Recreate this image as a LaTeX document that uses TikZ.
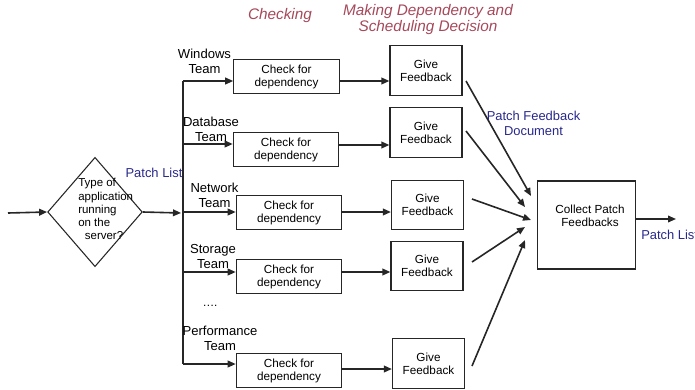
\documentclass[tikz,border=0pt]{standalone}
\usepackage{fontspec}
\setmainfont{Liberation Sans}
\usetikzlibrary{shapes.geometric, arrows.meta, positioning, calc}

\definecolor{headred}{RGB}{166,72,90}
\definecolor{listblue}{RGB}{40,40,140}

\begin{document}
\begin{tikzpicture}[
    x=0.75pt, y=-0.75pt,
    >={Triangle[length=6pt, width=5pt]},
    % Core styles
    checkbox/.style={
        draw=black!85, line width=0.9pt, inner sep=0pt,
        minimum width=79pt, minimum height=26pt, align=center,
        font=\fontsize{8.8}{9.8}\selectfont
    },
    fbbox/.style={
        draw=black!85, line width=0.9pt, inner sep=0pt,
        minimum width=54pt, minimum height=37pt, align=center,
        font=\fontsize{8.8}{9.6}\selectfont
    },
    decision/.style={
        diamond, draw=black!85, line width=0.8pt, inner sep=0pt,
        minimum width=71pt, minimum height=82pt
    },
    flow/.style={->, line width=1.2pt, color=black!85},
    teamlabel/.style={font=\fontsize{9.8}{11.3}\selectfont, align=center, inner sep=0pt},
    boxtext/.style={font=\fontsize{8.8}{9.8}\selectfont, align=center, inner sep=0pt},
    headlabel/.style={font=\fontsize{11.5}{12}\selectfont\itshape, text=headred, align=center, inner sep=0pt},
    flowlabel/.style={font=\fontsize{9.7}{11.2}\selectfont, text=listblue, align=center, inner sep=0pt}
]
\useasboundingbox (0,0) rectangle (695,389);

% === PHASE HEADINGS ===
\node[headlabel] (hcheck) at (280,16) {Checking};
\node[headlabel] (hdecide) at (428,20) {Making Dependency and\\Scheduling Decision};

% === DECISION (application type) ===
\node[decision] (type) at (95,212) {};
\node[boxtext, align=left, font=\fontsize{8.6}{9.8}\selectfont, anchor=west]
    (typetext) at (78,209) {Type of\\application\\running\\on the\\\hspace{5pt}server?};
\coordinate (start) at (8,213);
\draw[flow] (start) -- (type.west);

% bus carrying the patch list to every team
\coordinate (busin) at (181,213);
\coordinate (bustop) at (183,81);
\coordinate (busbot) at (183,364);
\draw[flow] (type.east) -- (busin);
\draw[line width=1.2pt, black!85] (bustop) -- (busbot);
\node[flowlabel] (plist) at (154,173) {Patch List};

% === TEAMS: CHECK FOR DEPENDENCY ===
\node[checkbox] (chk1) at (286.5,76.5) {Check for\\dependency};
\node[checkbox] (chk2) at (286,149.5) {Check for\\dependency};
\node[checkbox] (chk3) at (289,212.5) {Check for\\dependency};
\node[checkbox] (chk4) at (289,276.5) {Check for\\dependency};
\node[checkbox] (chk5) at (289,370.5) {Check for\\dependency};

\node[teamlabel] (tm1) at (204.5,61) {Windows\\Team};
\node[teamlabel] (tm2) at (211,129.5) {Database\\Team};
\node[teamlabel] (tm3) at (214.5,195.5) {Network\\Team};
\node[teamlabel] (tm4) at (213,256.5) {Storage\\Team};
\node[teamlabel] (tm5) at (220,338.5) {Performance\\Team};
\node[boxtext] (more) at (210,306) {….};

\foreach \n/\y in {1/81, 2/144, 3/212, 4/272, 5/364} {
    \coordinate (br\n) at (183,\y);
    \draw[flow] (br\n) -- (br\n -| chk\n.west);
}

% === GIVE FEEDBACK ===
\node[fbbox] (fb1) at (426,70.5) {Give\\Feedback};
\node[fbbox] (fb2) at (426,132.5) {Give\\Feedback};
\node[fbbox] (fb3) at (427.5,205) {Give\\Feedback};
\node[fbbox] (fb4) at (427,266) {Give\\Feedback};
\node[fbbox] (fb5) at (428.5,363.5) {Give\\Feedback};

\foreach \n/\y in {1/81, 2/145, 3/212, 4/272, 5/369} {
    \coordinate (row\n) at (0,\y);
    \draw[flow] (chk\n.east |- row\n) -- (fb\n.west |- row\n);
}

% === COLLECT FEEDBACKS ===
\node[draw=black!85, line width=0.9pt, minimum width=74pt, minimum height=66pt, inner sep=0pt]
    (collect) at (586.5,225) {};
\node[boxtext] (collecttext) at (590,216) {Collect Patch\\Feedbacks};

\foreach \n/\sx/\sy/\ex/\ey in {1/466/81/531/196, 2/466/131/525/207,
        3/472/199/531/220, 4/472/262/525/227, 5/472/366/525/240} {
    \coordinate (out\n) at (\sx,\sy);
    \coordinate (in\n) at (\ex,\ey);
    \draw[flow] (out\n) -- (in\n);
}
\node[flowlabel] (pfdoc) at (533.5,123.5) {Patch Feedback\\Document};

% output patch list
\coordinate (result) at (676,219);
\draw[flow] (collect.east |- result) -- (result);
\node[flowlabel, anchor=west] (plistout) at (641,235) {Patch List};

\end{tikzpicture}
\end{document}
